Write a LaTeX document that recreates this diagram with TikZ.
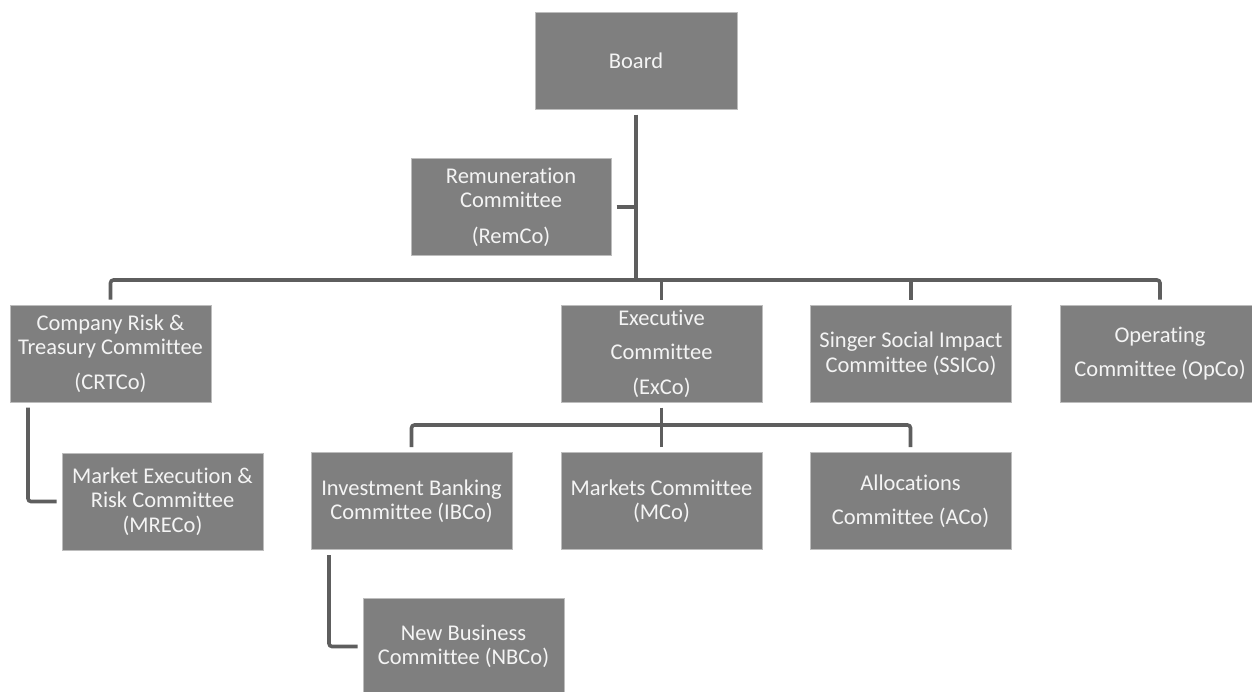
\documentclass[tikz,border=0pt]{standalone}
\usepackage{fontspec}
\setmainfont[Ligatures={NoCommon}]{Carlito}
\usetikzlibrary{calc}
\definecolor{boxgray}{HTML}{7F7F7F}
\definecolor{linegray}{HTML}{5E5E5E}
\definecolor{edgegray}{HTML}{BDBDBD}
\definecolor{textwhite}{HTML}{F4F4F4}
\begin{document}
\begin{tikzpicture}[x=1pt,y=-1pt]

        % Styles
        \tikzstyle{committee}=[rectangle,fill=boxgray,draw=edgegray,line width=0.8pt,
            text=textwhite,align=center,inner sep=0pt,outer sep=5.5pt,
            minimum width=201pt,minimum height=97pt,
            font=\fontsize{22.5}{24.5}\selectfont]
        \tikzstyle{link}=[draw=linegray,line width=3.6pt,rounded corners=3pt]
        %The graphic
        \useasboundingbox (0,0) rectangle (1252,691);
        %boxes
        \node[committee,minimum width=202pt] (board) at (636,60.5) {Board};
        \node[committee,minimum width=200pt] (remco) at (511,207) {Remuneration\\Committee\\[11pt](RemCo)};
        \node[committee] (crtco) at (110.5,353.5) {Company Risk \&\\Treasury Committee\\[10pt](CRTCo)};
        \node[committee] (exco) at (661.5,353.5) {Executive\\[10pt]Committee\\[10pt](ExCo)};
        \node[committee] (ssico) at (911,353.5) {Singer Social Impact\\Committee (SSICo)};
        \node[committee,minimum width=200pt] (opco) at (1160,353.5) {Operating\\[10pt]Committee (OpCo)};
        \node[committee] (mreco) at (162.5,501.5) {Market Execution \&\\Risk Committee\\(MRECo)};
        \node[committee] (ibco) at (411.5,501) {Investment Banking\\Committee (IBCo)};
        \node[committee] (mco) at (661.5,501) {Markets Committee\\(MCo)};
        \node[committee] (aco) at (910.5,501) {Allocations\\[10pt]Committee (ACo)};
        \node[committee] (nbco) at (463.5,646.5) {New Business\\Committee (NBCo)};
        %lines
        \coordinate (bus1) at (636,280);
        \coordinate (bus2) at (661.5,425);
        \draw[link] (board) -- (bus1);
        \draw[link] (remco.east) -- (remco.east -| bus1);
        \draw[link] (crtco.north) |- (bus1) -| (opco.north);
        \foreach \n in {exco,ssico}
            \draw[link] (\n.north) -- (\n.north |- bus1);
        \draw[link] (exco) -- (bus2);
        \draw[link] (ibco.north) |- (bus2) -| (aco.north);
        \draw[link] (mco.north) -- (mco.north |- bus2);
        \draw[link] ([xshift=-82.5pt]crtco.south) |- (mreco.west);
        \draw[link] ([xshift=-82.5pt]ibco.south) |- (nbco.west);
\end{tikzpicture}
\end{document}
